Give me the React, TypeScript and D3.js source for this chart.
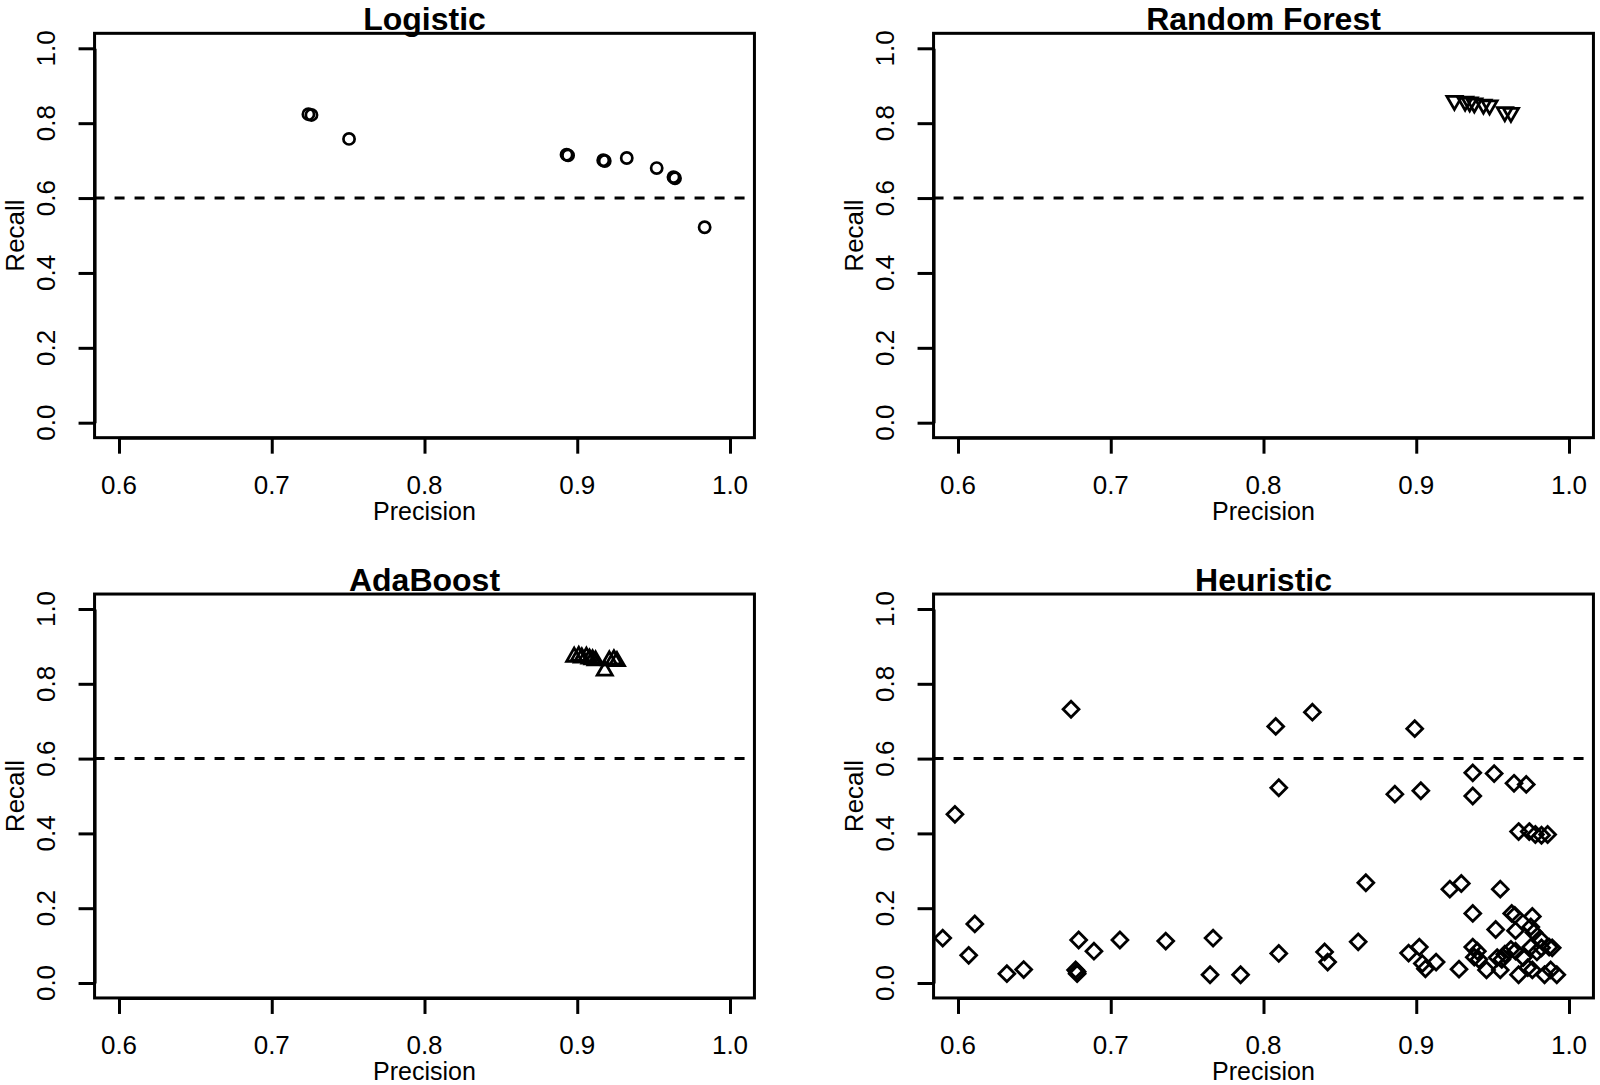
import { useEffect, useRef } from 'react';
import * as d3 from 'd3';

// [precision, recall] per run
const logistic: [number, number][] = [
    [0.724, 0.824], [0.726, 0.822], [0.7506, 0.758],
    [0.893, 0.716], [0.894, 0.714], [0.917, 0.701], [0.918, 0.699],
    [0.9324, 0.707], [0.952, 0.68], [0.963, 0.656], [0.964, 0.653],
    [0.9834, 0.522],
];

const randomForest: [number, number][] = [
    [0.925, 0.86], [0.932, 0.858], [0.935, 0.856], [0.938, 0.853],
    [0.944, 0.85], [0.948, 0.848], [0.958, 0.83], [0.962, 0.828],
];

const adaBoost: [number, number][] = [
    [0.898, 0.872], [0.901, 0.874], [0.903, 0.87], [0.906, 0.872],
    [0.908, 0.867], [0.91, 0.865], [0.912, 0.862], [0.918, 0.835],
    [0.921, 0.862], [0.924, 0.865], [0.926, 0.86],
];

const heuristic: [number, number][] = [
    [0.674, 0.732], [0.808, 0.686], [0.832, 0.724], [0.899, 0.68],
    [0.81, 0.522], [0.598, 0.451],
    [0.937, 0.562], [0.951, 0.56], [0.964, 0.534], [0.972, 0.531],
    [0.886, 0.505], [0.903, 0.514], [0.937, 0.5],
    [0.967, 0.405], [0.974, 0.405], [0.978, 0.397], [0.982, 0.395], [0.986, 0.397],
    [0.867, 0.268], [0.922, 0.251], [0.9295, 0.266], [0.955, 0.251],
    [0.937, 0.186], [0.9625, 0.186], [0.9645, 0.181], [0.976, 0.178],
    [0.611, 0.158], [0.59, 0.12], [0.607, 0.074], [0.632, 0.025], [0.643, 0.036],
    [0.679, 0.115], [0.678, 0.03], [0.678, 0.025], [0.677, 0.035], [0.689, 0.085],
    [0.706, 0.115], [0.736, 0.112], [0.767, 0.12], [0.765, 0.022], [0.785, 0.022],
    [0.81, 0.079], [0.84, 0.083], [0.842, 0.056], [0.862, 0.11],
    [0.895, 0.08], [0.902, 0.096], [0.904, 0.052], [0.906, 0.038], [0.913, 0.056], [0.928, 0.037],
    [0.952, 0.143], [0.965, 0.14], [0.975, 0.15], [0.977, 0.135], [0.981, 0.118],
    [0.937, 0.096], [0.94, 0.085], [0.938, 0.069], [0.941, 0.063], [0.946, 0.035],
    [0.953, 0.068], [0.956, 0.063], [0.955, 0.035], [0.958, 0.077],
    [0.962, 0.09], [0.965, 0.085], [0.967, 0.022], [0.97, 0.068], [0.973, 0.041], [0.976, 0.035],
    [0.975, 0.096], [0.979, 0.083], [0.982, 0.094], [0.984, 0.022], [0.987, 0.096],
    [0.988, 0.035], [0.989, 0.094], [0.992, 0.022],
];

const xTicks = [0.6, 0.7, 0.8, 0.9, 1.0];
const yTicks = [0, 0.2, 0.4, 0.6, 0.8, 1.0];
const recallThreshold = 0.6;

type Shape = 'circle' | 'triUp' | 'triDown' | 'diamond';

const panels: { title: string; points: [number, number][]; shape: Shape; col: number; row: number }[] = [
    { title: 'Logistic', points: logistic, shape: 'circle', col: 0, row: 0 },
    { title: 'Random Forest', points: randomForest, shape: 'triDown', col: 1, row: 0 },
    { title: 'AdaBoost', points: adaBoost, shape: 'triUp', col: 0, row: 1 },
    { title: 'Heuristic', points: heuristic, shape: 'diamond', col: 1, row: 1 },
];

const W = 1600;
const H = 1085;
const font = '"Liberation Sans", Arial, Helvetica, sans-serif';

// R pch symbol geometry (radius of the pch 1 circle)
const rad = 5.6;
function symbolPath(shape: Shape): string {
    if (shape === 'triUp' || shape === 'triDown') {
        const xc = rad * 1.347;
        const r = rad * 1.555;
        const yc = rad * 0.778;
        const s = shape === 'triUp' ? 1 : -1;
        return `M0,${-r * s}L${xc},${yc * s}L${-xc},${yc * s}Z`;
    }
    const d = rad * Math.SQRT2;
    return `M0,${-d}L${d},0L0,${d}L${-d},0Z`;
}

export default function App() {
    const svgRef = useRef<SVGSVGElement>(null);

    useEffect(() => {
        if (!svgRef.current) return;
        const svg = d3.select(svgRef.current);
        svg.selectAll('*').remove();

        const colX = [[119, 730], [958, 1569]];
        const rowY = [[422.7, 48.3], [983, 609]];

        panels.forEach(p => {
            const x = d3.scaleLinear().domain([0.6, 1.0]).range(colX[p.col]);
            const y = d3.scaleLinear().domain([0, 1]).range(rowY[p.row]);
            const g = svg.append('g');

            const bx0 = x(0.584), bx1 = x(1.016);
            const by0 = y(-0.04), by1 = y(1.04);

            // threshold line
            g.append('line')
                .attr('x1', bx0).attr('x2', bx1)
                .attr('y1', y(recallThreshold)).attr('y2', y(recallThreshold))
                .attr('stroke', '#000')
                .attr('stroke-width', 3)
                .attr('stroke-dasharray', '10,10');

            // points
            const sym = g.append('g');
            p.points.forEach(([pr, rc]) => {
                if (p.shape === 'circle') {
                    sym.append('circle')
                        .attr('cx', x(pr)).attr('cy', y(rc)).attr('r', rad)
                        .attr('fill', 'none').attr('stroke', '#000').attr('stroke-width', 2.7);
                } else {
                    sym.append('path')
                        .attr('d', symbolPath(p.shape))
                        .attr('transform', `translate(${x(pr)},${y(rc)})`)
                        .attr('fill', 'none').attr('stroke', '#000')
                        .attr('stroke-width', 2.8).attr('stroke-linejoin', 'miter');
                }
            });

            // box
            g.append('rect')
                .attr('x', bx0).attr('y', by1)
                .attr('width', bx1 - bx0).attr('height', by0 - by1)
                .attr('fill', 'none').attr('stroke', '#000').attr('stroke-width', 3);

            // axes
            const xa = g.append('g')
                .attr('transform', `translate(0,${by0})`)
                .call(d3.axisBottom(x).tickValues(xTicks).tickSize(16).tickSizeOuter(0).tickFormat(() => ''));
            const ya = g.append('g')
                .attr('transform', `translate(${bx0},0)`)
                .call(d3.axisLeft(y).tickValues(yTicks).tickSize(16).tickSizeOuter(0).tickFormat(() => ''));
            [xa, ya].forEach(a => {
                a.selectAll('path, line').attr('stroke', '#000').attr('stroke-width', 3);
                a.selectAll('text').remove();
            });

            xTicks.forEach(t => {
                g.append('text')
                    .attr('x', x(t)).attr('y', by0 + 56)
                    .attr('text-anchor', 'middle')
                    .attr('font-family', font).attr('font-size', 26)
                    .text(d3.format('.1f')(t));
            });
            yTicks.forEach(t => {
                g.append('text')
                    .attr('transform', `translate(${bx0 - 40},${y(t)}) rotate(-90)`)
                    .attr('text-anchor', 'middle')
                    .attr('font-family', font).attr('font-size', 26)
                    .text(d3.format('.1f')(t));
            });

            g.append('text')
                .attr('x', (bx0 + bx1) / 2).attr('y', by0 + 82)
                .attr('text-anchor', 'middle')
                .attr('font-family', font).attr('font-size', 25)
                .text('Precision');
            g.append('text')
                .attr('transform', `translate(${bx0 - 71},${(by0 + by1) / 2}) rotate(-90)`)
                .attr('text-anchor', 'middle')
                .attr('font-family', font).attr('font-size', 26)
                .text('Recall');
            g.append('text')
                .attr('x', (bx0 + bx1) / 2).attr('y', by1 - 3.5)
                .attr('text-anchor', 'middle')
                .attr('font-family', font).attr('font-size', 32).attr('font-weight', 'bold')
                .text(p.title);
        });
    }, []);

    return (
        <div style={{ position: 'absolute', left: 0, top: 0, background: '#fff' }}>
            <svg ref={svgRef} width={W} height={H} style={{ display: 'block' }} />
        </div>
    );
}
